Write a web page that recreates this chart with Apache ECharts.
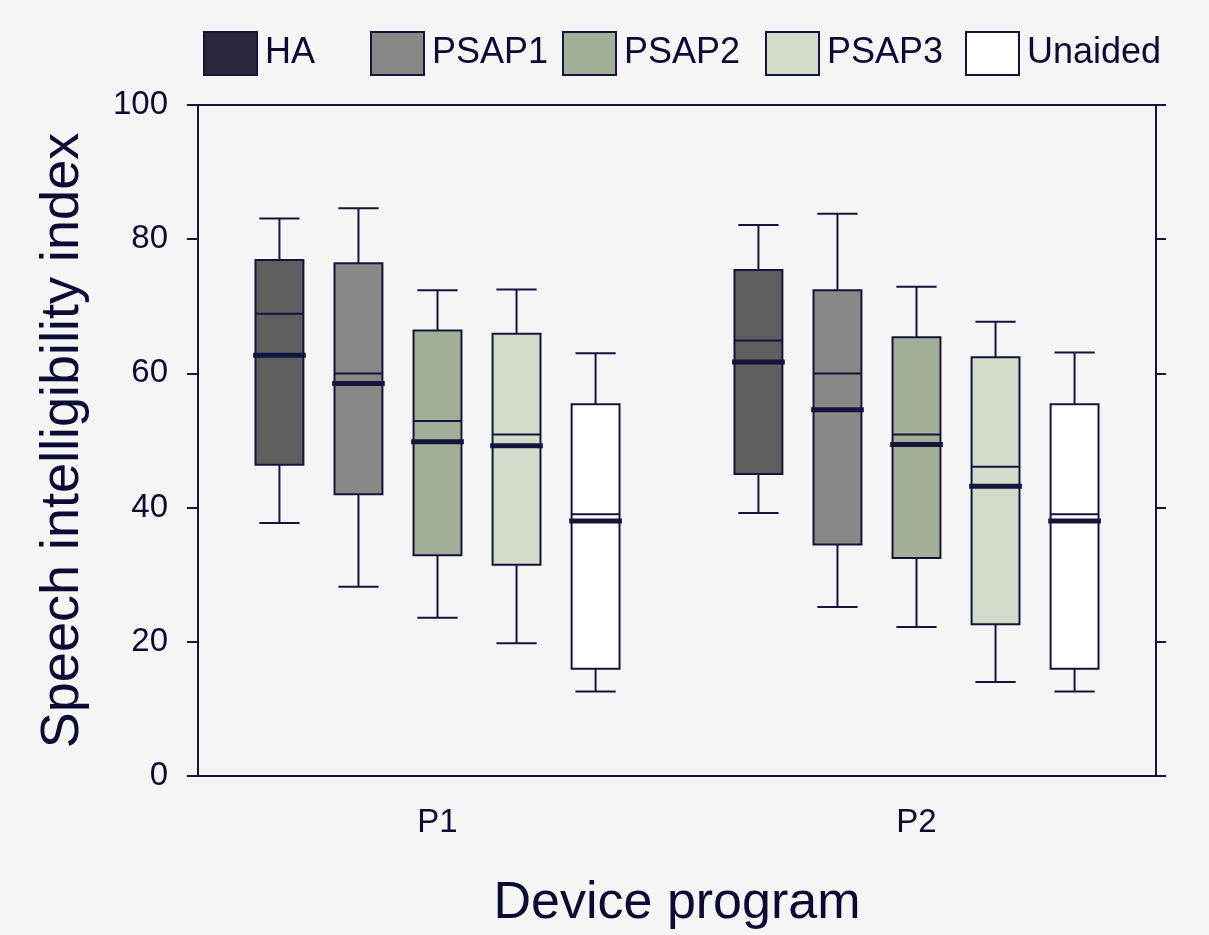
<!DOCTYPE html>
<html>
<head>
<meta charset="utf-8">
<script src="https://cdn.jsdelivr.net/npm/echarts@6/dist/echarts.min.js"></script>
<style>
html,body{margin:0;padding:0;background:#f5f5f5;}
#chart{width:1209px;height:935px;}
</style>
</head>
<body>
<div id="chart"></div>
<script>
// ---- data ----
const categories = ['P1', 'P2'];
const seriesNames = ['HA', 'PSAP1', 'PSAP2', 'PSAP3', 'Unaided'];
const yTicks = [0, 20, 40, 60, 80, 100];
// each row: [lower whisker, Q1, median, Q3, upper whisker, mean] for P1, P2
const HA      = [[37.7, 46.4, 68.9, 76.9, 83.1, 62.7], [39.2, 45.0, 64.9, 75.4, 82.1, 61.7]];
const PSAP1   = [[28.2, 42.0, 60.0, 76.4, 84.6, 58.5], [25.2, 34.5, 60.0, 72.4, 83.8, 54.6]];
const PSAP2   = [[23.6, 32.9, 52.9, 66.4, 72.4, 49.8], [22.2, 32.5, 50.9, 65.4, 72.9, 49.4]];
const PSAP3   = [[19.8, 31.5, 50.9, 65.9, 72.5, 49.2], [14.0, 22.6, 46.1, 62.4, 67.7, 43.2]];
const Unaided = [[12.6, 16.0, 39.0, 55.4, 63.0, 38.0], [12.6, 16.0, 39.0, 55.4, 63.1, 38.0]];
const seriesValues = [HA, PSAP1, PSAP2, PSAP3, Unaided];

// ---- styles ----
const fills = ['#5f5f5f', '#878984', '#a3ae99', '#d3dccb', '#ffffff'];
const legendFills = ['#2a2a3c', '#878984', '#a3ae99', '#d3dccb', '#ffffff'];
const legendLefts = [198, 365, 557, 760, 960];
const ink = '#14143c';
const txt = '#0b0b33';
const font = '"Liberation Sans", Arial, sans-serif';

function renderItem(params, api) {
  const cat = api.value(0);
  const band = api.size([1, 0])[0];
  const off = (params.seriesIndex - 2) * band * 0.165;
  const cx = api.coord([cat, 0])[0] + off;
  const Y = k => api.coord([cat, api.value(k)])[1];
  const lo = Y(1), q1 = Y(2), med = Y(3), q3 = Y(4), hi = Y(5), mean = Y(6);
  const bw = band * 0.05, cw = band * 0.042, mw = band * 0.055;
  const ls = { stroke: ink, lineWidth: 2, fill: null };
  return {
    type: 'group',
    children: [
      { type: 'line', shape: { x1: cx, y1: hi, x2: cx, y2: q3 }, style: ls },
      { type: 'line', shape: { x1: cx, y1: q1, x2: cx, y2: lo }, style: ls },
      { type: 'line', shape: { x1: cx - cw, y1: hi, x2: cx + cw, y2: hi }, style: ls },
      { type: 'line', shape: { x1: cx - cw, y1: lo, x2: cx + cw, y2: lo }, style: ls },
      { type: 'rect', shape: { x: cx - bw, y: q3, width: 2 * bw, height: q1 - q3 },
        style: { fill: fills[params.seriesIndex], stroke: ink, lineWidth: 2 } },
      { type: 'line', shape: { x1: cx - bw, y1: med, x2: cx + bw, y2: med }, style: ls },
      { type: 'line', shape: { x1: cx - mw, y1: mean, x2: cx + mw, y2: mean },
        style: { stroke: ink, lineWidth: 5, fill: null } }
    ]
  };
}

const chart = echarts.init(document.getElementById('chart'), null, { renderer: 'canvas' });

const legends = seriesNames.map((n, i) => ({
  left: legendLefts[i],
  top: 26,
  orient: 'horizontal',
  itemWidth: 53,
  itemHeight: 43,
  icon: 'rect',
  selectedMode: false,
  textStyle: { fontSize: 36, color: txt, fontFamily: font, padding: [0, 0, 0, 3] },
  data: [{ name: n, itemStyle: { color: legendFills[i], borderColor: ink, borderWidth: 2 } }]
}));

const option = {
  backgroundColor: '#f5f5f5',
  animation: false,
  legend: legends,
  grid: {
    left: 198, right: 53, top: 105, bottom: 157,
    show: true, borderColor: ink, borderWidth: 2, backgroundColor: 'transparent'
  },
  xAxis: {
    type: 'category',
    data: categories,
    boundaryGap: true,
    name: 'Device program',
    nameLocation: 'middle',
    nameGap: 102,
    nameTextStyle: { fontSize: 52, color: txt, fontFamily: font },
    axisLine: { lineStyle: { color: ink, width: 2 } },
    axisTick: { alignWithLabel: true, length: 9, lineStyle: { color: ink, width: 2 } },
    axisLabel: { fontSize: 33, color: txt, fontFamily: font, margin: 30 },
    splitLine: { show: false }
  },
  yAxis: [
    {
      type: 'value', min: yTicks[0], max: yTicks[yTicks.length - 1], interval: 20,
      name: 'Speech intelligibility index',
      nameLocation: 'middle',
      nameGap: 108,
      nameTextStyle: { fontSize: 54, color: txt, fontFamily: font },
      axisLine: { show: true, lineStyle: { color: ink, width: 2 } },
      axisTick: { show: true, length: 11, lineStyle: { color: ink, width: 2 } },
      axisLabel: { fontSize: 33, color: txt, fontFamily: font, margin: 30 },
      splitLine: { show: false }
    },
    {
      type: 'value', min: yTicks[0], max: yTicks[yTicks.length - 1], interval: 20,
      position: 'right',
      axisLine: { show: true, lineStyle: { color: ink, width: 2 } },
      axisTick: { show: true, length: 10, lineStyle: { color: ink, width: 2 } },
      axisLabel: { show: false },
      splitLine: { show: false }
    }
  ],
  series: seriesNames.map((n, i) => ({
    name: n,
    type: 'custom',
    renderItem: renderItem,
    itemStyle: { color: fills[i], borderColor: ink, borderWidth: 2 },
    encode: { x: 0, y: [1, 2, 3, 4, 5, 6] },
    data: seriesValues[i].map((row, c) => [c].concat(row))
  }))
};
chart.setOption(option);
</script>
</body>
</html>
